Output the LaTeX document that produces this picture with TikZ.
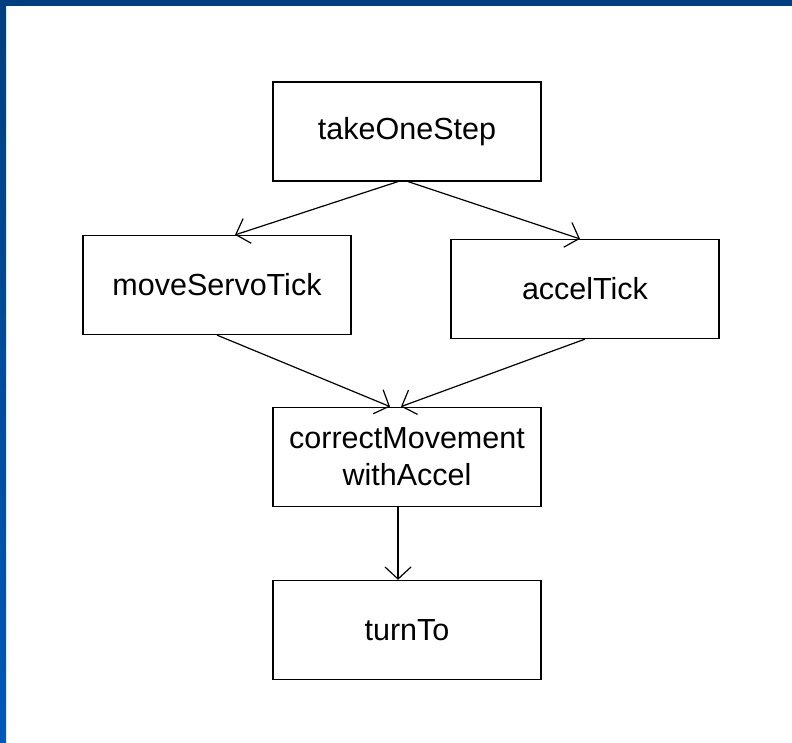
\documentclass[tikz,border=0pt]{standalone}
\usepackage{fontspec}
\setmainfont{Liberation Sans}
\usetikzlibrary{arrows.meta,positioning}
\definecolor{framedark}{HTML}{003F7F}
\definecolor{framelight}{HTML}{0058B8}

\begin{document}
\begin{tikzpicture}[x=1pt, y=1pt,
  fn/.style={draw, line width=1.2pt, minimum width=268pt, minimum height=99pt, align=center, font=\fontsize{30.5}{37}\selectfont, inner sep=0pt},
  arr/.style={-{Straight Barb[length=12pt, width=26pt, line width=1.2pt]}, line width=1.2pt}
]
\useasboundingbox (0,0) rectangle (792,-743);
\fill[framedark] (0,0) rectangle (792,-6);
\shade[top color=framedark, bottom color=framelight] (0,-6) rectangle (6,-743);

\node[fn] (takestep) at (407,-131.5) {takeOneStep};
\node[fn] (servotick) at (217,-285) {moveServoTick};
\node[fn] (acceltick) at (585,-289) {accelTick};
\node[fn, below=225pt of takestep] (correct) {correctMovement\\withAccel};
\node[fn, below=73pt of correct] (turnto) {turnTo};

\draw[arr] ([xshift=-9pt]takestep.south) -- ([xshift=18pt]servotick.north);
\draw[arr] ([xshift=1pt]takestep.south) -- ([xshift=-5pt]acceltick.north);
\draw[arr] (servotick.south) -- ([xshift=-17pt]correct.north);
\draw[arr] (acceltick.south) -- ([xshift=-6pt]correct.north);
\draw[arr] ([xshift=-9pt]correct.south) -- ([xshift=-9pt]turnto.north);
\end{tikzpicture}
\end{document}
